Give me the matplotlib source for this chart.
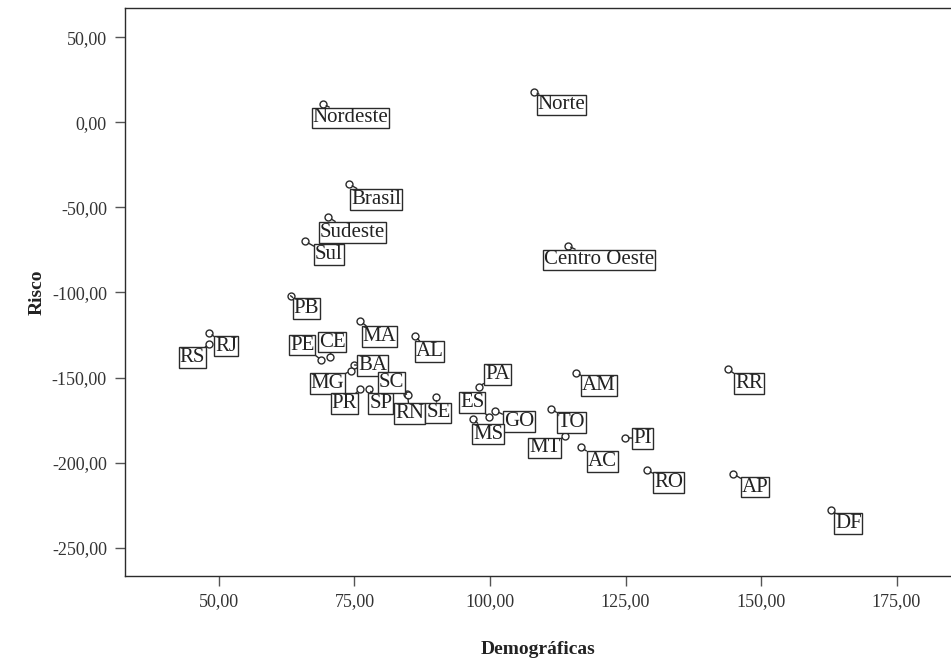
import matplotlib
matplotlib.use('Agg')
import matplotlib.pyplot as plt
from matplotlib.ticker import FuncFormatter

# data
siglas = ['Nordeste', 'Norte', 'Brasil', 'Sudeste', 'Sul', 'Centro Oeste',
          'PB', 'RJ', 'RS', 'PE', 'CE', 'MA', 'BA', 'AL', 'MG', 'PR', 'SP',
          'SC', 'RN', 'SE', 'PA', 'ES', 'GO', 'MS', 'AM', 'TO', 'MT', 'PI',
          'AC', 'RR', 'RO', 'AP', 'DF']
demograficas = [69.2, 108.1, 74.0, 70.2, 65.9, 114.3,
                63.2, 48.2, 48.1, 68.9, 70.5, 76.1, 75.0, 86.2, 74.3, 76.0, 77.6,
                84.6, 84.8, 90.0, 98.0, 99.9, 101.0, 96.9, 115.9, 111.3, 113.9, 124.9,
                116.8, 143.9, 129.0, 144.9, 163.0]
risco = [10.8, 18.0, -36.3, -55.8, -69.9, -72.5,
         -101.9, -123.6, -130.3, -139.7, -138.1, -116.9, -142.6, -125.6, -145.9, -156.9, -156.5,
         -159.8, -160.2, -161.5, -155.3, -173.3, -169.6, -174.1, -147.1, -168.4, -184.3, -185.3,
         -191.0, -145.1, -204.3, -206.6, -227.8]

x_ticks = [50, 75, 100, 125, 150, 175]
y_ticks = [50, 0, -50, -100, -150, -200, -250]

# label box centre, pixels from the point (right, down)
offsets = {
    'Nordeste': (27.5, 14), 'Norte': (27.7, 13.3), 'Brasil': (26.9, 15.2),
    'Sudeste': (24.2, 15), 'Sul': (23.8, 13.4), 'Centro Oeste': (31.5, 14.3),
    'PB': (15.8, 12.6), 'RJ': (16.8, 13.5), 'RS': (-16.5, 13.7),
    'PE': (-19.3, -15), 'CE': (2, -15.3), 'MA': (19.2, 15.4), 'BA': (18, 0.7),
    'AL': (14.2, 15.7), 'MG': (-23.2, 13.1), 'PR': (-15.8, 14.5), 'SP': (12.1, 15.1),
    'SC': (-15.5, -11.5), 'RN': (2, 18.8), 'SE': (2.5, 15.8), 'PA': (18.2, -12.4),
    'ES': (-17.3, -15), 'GO': (23.5, 10.7), 'MS': (15, 15.5), 'AM': (22.9, 13),
    'TO': (20.3, 13.3), 'MT': (-20.6, 12), 'PI': (17.5, 1), 'AC': (21.2, 14),
    'RR': (21.1, 14.5), 'RO': (21.2, 12.3), 'AP': (21.9, 13.2), 'DF': (16.8, 13.8),
}

plt.rcParams['font.family'] = ['Liberation Serif', 'DejaVu Serif']
plt.rcParams['axes.unicode_minus'] = False

ink = '#2b2b2b'

fig = plt.figure(figsize=(9.51, 6.64), dpi=100)
ax = fig.add_axes([125 / 951, (664 - 575.5) / 664, (951 - 125) / 951, (575.5 - 8.3) / 664])

ax.plot(demograficas, risco, 'o', markersize=5, markerfacecolor='white',
        markeredgecolor=ink, markeredgewidth=1.0, linestyle='none', zorder=3)

for nome, x, y in zip(siglas, demograficas, risco):
    dx, dy = offsets[nome]
    ax.annotate(nome, xy=(x, y), xytext=(dx, -dy), textcoords='offset pixels',
                ha='center', va='center', fontsize=15, color='#222222',
                bbox=dict(boxstyle='square,pad=0.04', fc='white', ec=ink, lw=1.0),
                arrowprops=dict(arrowstyle='-', color=ink, lw=1.0, shrinkA=0, shrinkB=2.5),
                zorder=4)

ax.set_xlim(32.66, 185.05)
ax.set_ylim(-266.3, 67.0)
ax.set_xticks(x_ticks)
ax.set_yticks(y_ticks)

fmt = FuncFormatter(lambda v, p: f'{v:.2f}'.replace('.', ','))
ax.xaxis.set_major_formatter(fmt)
ax.yaxis.set_major_formatter(fmt)
ax.tick_params(direction='out', length=7, width=1, color='#555555',
               labelsize=13, labelcolor='#333333', pad=6)

ax.spines['right'].set_visible(False)
for s in ['left', 'bottom', 'top']:
    ax.spines[s].set_color(ink)
    ax.spines[s].set_linewidth(1.0)

fig.text(37 / 951, 1 - 292 / 664, 'Risco', rotation=90, ha='center', va='center',
         fontsize=14, fontweight='bold', color='#222222')
fig.text(538 / 951, 1 - 650 / 664, 'Demográficas', ha='center', va='center',
         fontsize=14, fontweight='bold', color='#222222')

fig.savefig('out.png', dpi=100)
